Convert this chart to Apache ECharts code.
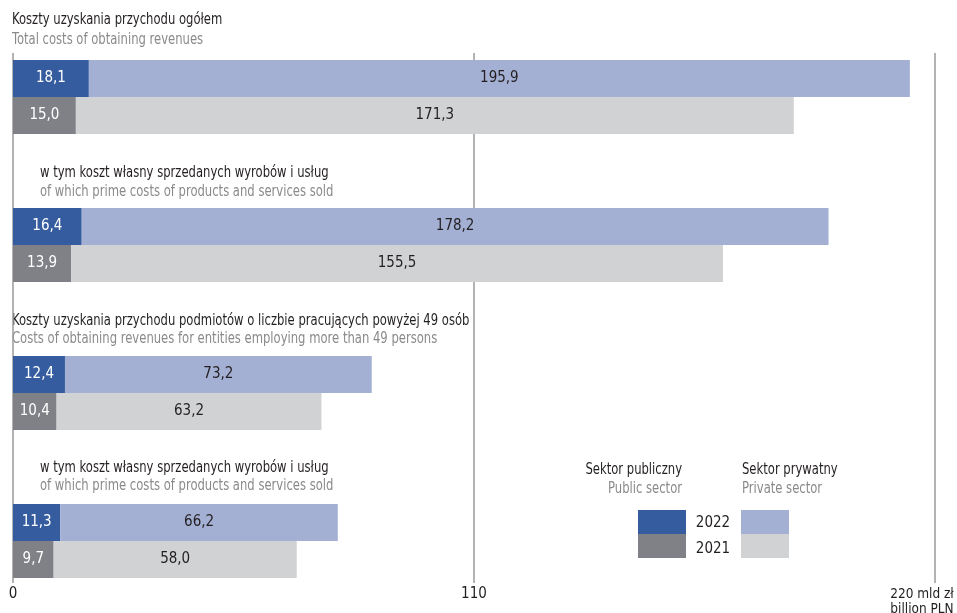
<!DOCTYPE html>
<html>
<head>
<meta charset="utf-8">
<script src="https://cdn.jsdelivr.net/npm/echarts@6/dist/echarts.min.js"></script>
<style>
html,body{margin:0;padding:0;background:#fff;}
#chart{width:957px;height:613px;}
</style>
</head>
<body>
<div id="chart"></div>
<script>
// ---- Data ----
var groupKeys = ['g1', 'g2', 'g3', 'g4'];
var headingsPL = [
  'Koszty uzyskania przychodu ogółem',
  'w tym koszt własny sprzedanych wyrobów i usług',
  'Koszty uzyskania przychodu podmiotów o liczbie pracujących powyżej 49 osób',
  'w tym koszt własny sprzedanych wyrobów i usług'
];
var headingsEN = [
  'Total costs of obtaining revenues',
  'of which prime costs of products and services sold',
  'Costs of obtaining revenues for entities employing more than 49 persons',
  'of which prime costs of products and services sold'
];
var public2022 = [18.1, 16.4, 12.4, 11.3];
var private2022 = [195.9, 178.2, 73.2, 66.2];
var public2021 = [15.0, 13.9, 10.4, 9.7];
var private2021 = [171.3, 155.5, 63.2, 58.0];
var xTicks = [0, 110, 220];
var unitPL = 'mld zł';
var unitEN = 'billion PLN';
var legendSectorsPL = ['Sektor publiczny', 'Sektor prywatny'];
var legendSectorsEN = ['Public sector', 'Private sector'];
var legendYears = ['2022', '2021'];

// ---- Styles ----
var FONT = "'Liberation Sans Narrow', 'DejaVu Sans Condensed', sans-serif";
var SX = 0.86; // horizontal condensing for text set in a condensed face
var C_PUB22 = '#345C9E', C_PRI22 = '#A3B0D4', C_PUB21 = '#808187', C_PRI21 = '#D1D2D4';
var DARK = '#231F20', GREY = '#8A8A8A';

// categories: 2 bar rows per group + 2 spacer rows between groups
var categories = [];
groupKeys.forEach(function (g, i) {
  categories.push(g + '-2022', g + '-2021');
  if (i < groupKeys.length - 1) categories.push(g + '-s1', g + '-s2');
});
function rowData(values, yearKey) {
  return categories.map(function (c) {
    var parts = c.split('-');
    var gi = groupKeys.indexOf(parts[0]);
    return parts[1] === yearKey ? values[gi] : '-';
  });
}
function fmt(p) { return p.value.toFixed(1).replace('.', ','); }

function barSeries(name, values, yearKey, color, labelColor) {
  return {
    name: name, type: 'bar', stack: 'total', xAxisIndex: 0, yAxisIndex: 0,
    data: rowData(values, yearKey), barWidth: '100%', barCategoryGap: '0%',
    itemStyle: { color: color },
    label: { show: true, position: 'inside', formatter: fmt, color: labelColor,
      fontFamily: FONT, fontSize: 15 },
    silent: true, animation: false
  };
}

function txt(str, x, y, color, align, scale) {
  return { type: 'text', x: x, y: y, scaleX: scale, scaleY: 1, silent: true,
    style: { text: str, font: '15px ' + FONT, fill: color, align: align, verticalAlign: 'middle' } };
}

// heading layout: left x, centre y of first and second line
var headPos = [
  { x: 12, y1: 20, y2: 40 },
  { x: 40, y1: 173, y2: 192 },
  { x: 12, y1: 321, y2: 339 },
  { x: 40, y1: 468, y2: 486 }
];
var graphics = [];
headingsPL.forEach(function (t, i) {
  graphics.push(txt(t, headPos[i].x, headPos[i].y1, DARK, 'left', SX));
  graphics.push(txt(headingsEN[i], headPos[i].x, headPos[i].y2, GREY, 'left', SX));
});
// legend
graphics.push(txt(legendSectorsPL[0], 682, 470, DARK, 'right', SX));
graphics.push(txt(legendSectorsEN[0], 682, 489, GREY, 'right', SX));
graphics.push(txt(legendSectorsPL[1], 742, 470, DARK, 'left', SX));
graphics.push(txt(legendSectorsEN[1], 742, 489, GREY, 'left', SX));
graphics.push({ type: 'rect', shape: { x: 638, y: 510, width: 48, height: 24 }, style: { fill: C_PUB22 } });
graphics.push({ type: 'rect', shape: { x: 638, y: 534, width: 48, height: 24 }, style: { fill: C_PUB21 } });
graphics.push({ type: 'rect', shape: { x: 741, y: 510, width: 48, height: 24 }, style: { fill: C_PRI22 } });
graphics.push({ type: 'rect', shape: { x: 741, y: 534, width: 48, height: 24 }, style: { fill: C_PRI21 } });
graphics.push(txt(legendYears[0], 713, 523, DARK, 'center', 1));
graphics.push(txt(legendYears[1], 713, 549, DARK, 'center', 1));

var chart = echarts.init(document.getElementById('chart'), null, { renderer: 'canvas' });
chart.setOption({
  animation: false,
  backgroundColor: '#fff',
  grid: [
    { left: 13, right: 22, top: 60, bottom: 35, containLabel: false, outerBoundsMode: 'none' },
    { left: 13, right: 22, top: 53, bottom: 30, containLabel: false, outerBoundsMode: 'none' }
  ],
  xAxis: [
    {
      gridIndex: 0, type: 'value', min: xTicks[0], max: xTicks[xTicks.length - 1], interval: 110,
      axisLine: { show: false }, axisTick: { show: false }, splitLine: { show: false },
      axisLabel: {
        margin: 9, fontFamily: FONT, fontSize: 15, color: DARK, lineHeight: 15,
        hideOverlap: false,
        formatter: function (v) {
          return v === xTicks[xTicks.length - 1] ? '{u|' + v + ' ' + unitPL + '}\n{u|' + unitEN + '}' : String(v);
        },
        rich: { u: { fontFamily: FONT, fontSize: 13.5, color: DARK, lineHeight: 15, padding: [0, 26, 0, 0] } }
      }
    },
    {
      gridIndex: 1, type: 'value', min: xTicks[0], max: xTicks[xTicks.length - 1], interval: 110,
      axisLine: { show: false }, axisTick: { show: false }, axisLabel: { show: false },
      splitLine: { show: true, lineStyle: { color: '#9A9A9A', width: 1.5 } }
    }
  ],
  yAxis: [
    { gridIndex: 0, type: 'category', data: categories, inverse: true,
      axisLine: { show: false }, axisTick: { show: false }, axisLabel: { show: false }, splitLine: { show: false } },
    { gridIndex: 1, type: 'value', show: false }
  ],
  series: [
    barSeries('Sektor publiczny 2022', public2022, '2022', C_PUB22, '#FFFFFF'),
    barSeries('Sektor prywatny 2022', private2022, '2022', C_PRI22, DARK),
    barSeries('Sektor publiczny 2021', public2021, '2021', C_PUB21, '#FFFFFF'),
    barSeries('Sektor prywatny 2021', private2021, '2021', C_PRI21, DARK)
  ],
  graphic: graphics
});
</script>
</body>
</html>
